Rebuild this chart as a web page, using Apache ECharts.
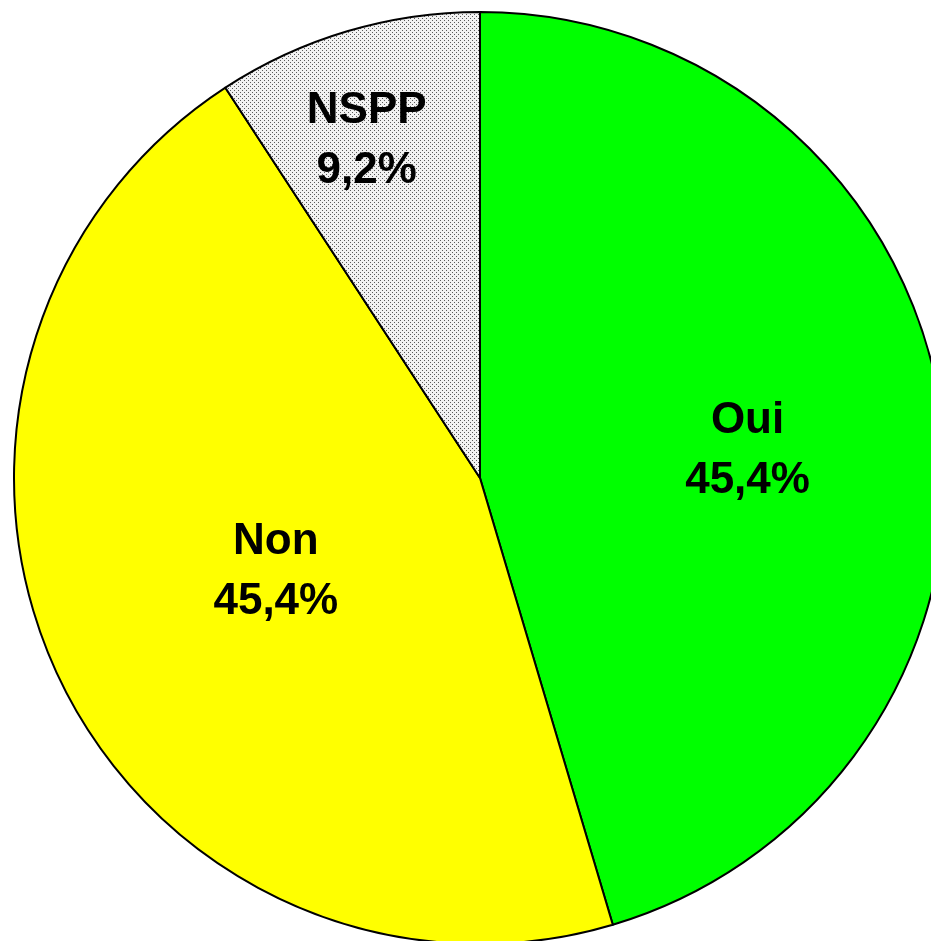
<!DOCTYPE html>
<html>
<head>
<meta charset="utf-8">
<script src="https://cdn.jsdelivr.net/npm/echarts@6/dist/echarts.min.js"></script>
<style>
    html, body { margin: 0; padding: 0; background: #fff; }
    #pic_pie { width: 931px; height: 941px; }
</style>
</head>
<body>
<div id="pic_pie"></div>
<script>
// données du sondage
var categories = ['Oui', 'Non', 'NSPP'];
var percents = [45.4, 45.4, 9.2];
var sliceColors = ['#00ff00', '#ffff00', null];   // null = trame pointillée

// décalage des étiquettes par rapport à la position "inside" par défaut
var labelShift = [[34, 7], [10, -5], [-46, -111]];

// trame pointillée grise (NSPP)
function dotPattern() {
    var c = document.createElement('canvas');
    c.width = 4;
    c.height = 4;
    var ctx = c.getContext('2d');
    ctx.fillStyle = '#f2f2f2';
    ctx.fillRect(0, 0, 4, 4);
    ctx.fillStyle = '#5a5a5a';
    ctx.fillRect(0, 0, 1, 1);
    ctx.fillRect(2, 2, 1, 1);
    return { image: c, repeat: 'repeat' };
}

var pieChart = echarts.init(document.getElementById('pic_pie'));

var pieData = [];
for (var i = 0; i < categories.length; i++) {
    pieData.push({
        name: categories[i],
        value: percents[i],
        itemStyle: { color: sliceColors[i] || dotPattern() }
    });
}

pieChart.setOption({
    animation: false,
    series: [{
        type: 'pie',
        center: [480, 478],
        radius: 466,
        startAngle: 90,
        clockwise: true,
        avoidLabelOverlap: false,
        silent: true,
        itemStyle: {
            borderColor: '#000',
            borderWidth: 2
        },
        label: {
            show: true,
            position: 'inside',
            color: '#000',
            fontFamily: 'Liberation Sans, Arial, sans-serif',
            fontWeight: 'bold',
            fontSize: 44,
            lineHeight: 60,
            formatter: function (p) {
                return p.name + '\n' + p.value.toFixed(1).replace('.', ',') + '%';
            }
        },
        labelLine: { show: false },
        labelLayout: function (p) {
            var s = labelShift[p.dataIndex];
            return { dx: s[0], dy: s[1] };
        },
        data: pieData
    }]
});
</script>
</body>
</html>
